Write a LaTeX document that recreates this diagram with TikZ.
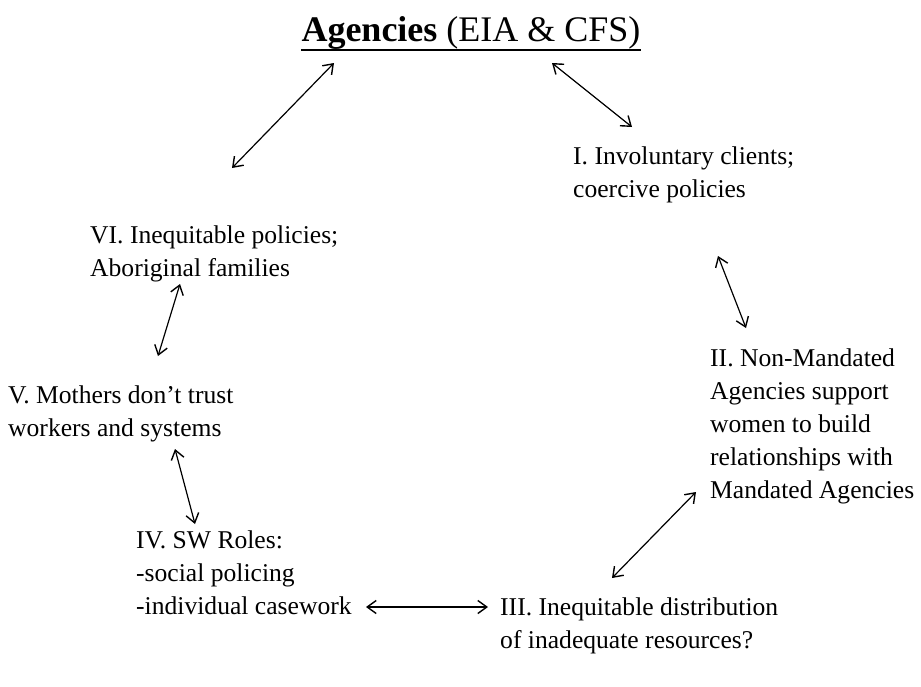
\documentclass[tikz,border=0pt]{standalone}
\usepackage{fontspec}
\setmainfont{Liberation Serif}
\usetikzlibrary{arrows.meta}
\begin{document}
\begin{tikzpicture}[x=1pt,y=-1pt,
  lbl/.style={anchor=base west,inner sep=0pt,align=left,font=\fontsize{25.6}{33}\selectfont},
  link/.style={line width=1.2pt,{Straight Barb[length=9pt,width=13pt,line width=1.4pt]}-{Straight Barb[length=9pt,width=13pt,line width=1.4pt]}}]
\useasboundingbox[fill=white] (0,0) rectangle (921,686);

% heading
\node[anchor=base,inner sep=0pt,font=\fontsize{36}{40}\selectfont] (title) at (471,41) {\textbf{Agencies} (EIA \& CFS)};
\draw[line width=1.6pt] ([yshift=-9pt]title.base west) -- ([yshift=-9pt]title.base east);

% the six themes (anchored at the baseline of their last line)
\node[lbl] (one)   at (573,197) {I. Involuntary clients;\\coercive policies};
\node[lbl] (two)   at (710,498) {II. Non-Mandated\\Agencies support\\women to build\\relationships with\\Mandated Agencies};
\node[lbl] (three) at (500,648) {III. Inequitable distribution\\of inadequate resources?};
\node[lbl] (four)  at (136,614) {IV. SW Roles:\\-social policing\\-individual casework};
\node[lbl] (five)  at (8,436)   {V. Mothers don’t trust\\workers and systems};
\node[lbl] (six)   at (90,276)  {VI. Inequitable policies;\\Aboriginal families};

% arrow ends
\coordinate (a1) at (334,63);  \coordinate (a2) at (232,168);
\coordinate (b1) at (552,63);  \coordinate (b2) at (632,127);
\coordinate (c1) at (180,284); \coordinate (c2) at (158,356);
\coordinate (d1) at (718,256); \coordinate (d2) at (746,328);
\coordinate (e1) at (175,449); \coordinate (e2) at (195,524);
\coordinate (f1) at (696,492); \coordinate (f2) at (612,578);
\coordinate (h1) at (366,607); \coordinate (h2) at (488,607);

\draw[link] (a1) -- (a2);
\draw[link] (b1) -- (b2);
\draw[link] (c1) -- (c2);
\draw[link] (d1) -- (d2);
\draw[link] (e1) -- (e2);
\draw[link] (f1) -- (f2);
\draw[link] (h1) -- (h2);
\end{tikzpicture}
\end{document}
